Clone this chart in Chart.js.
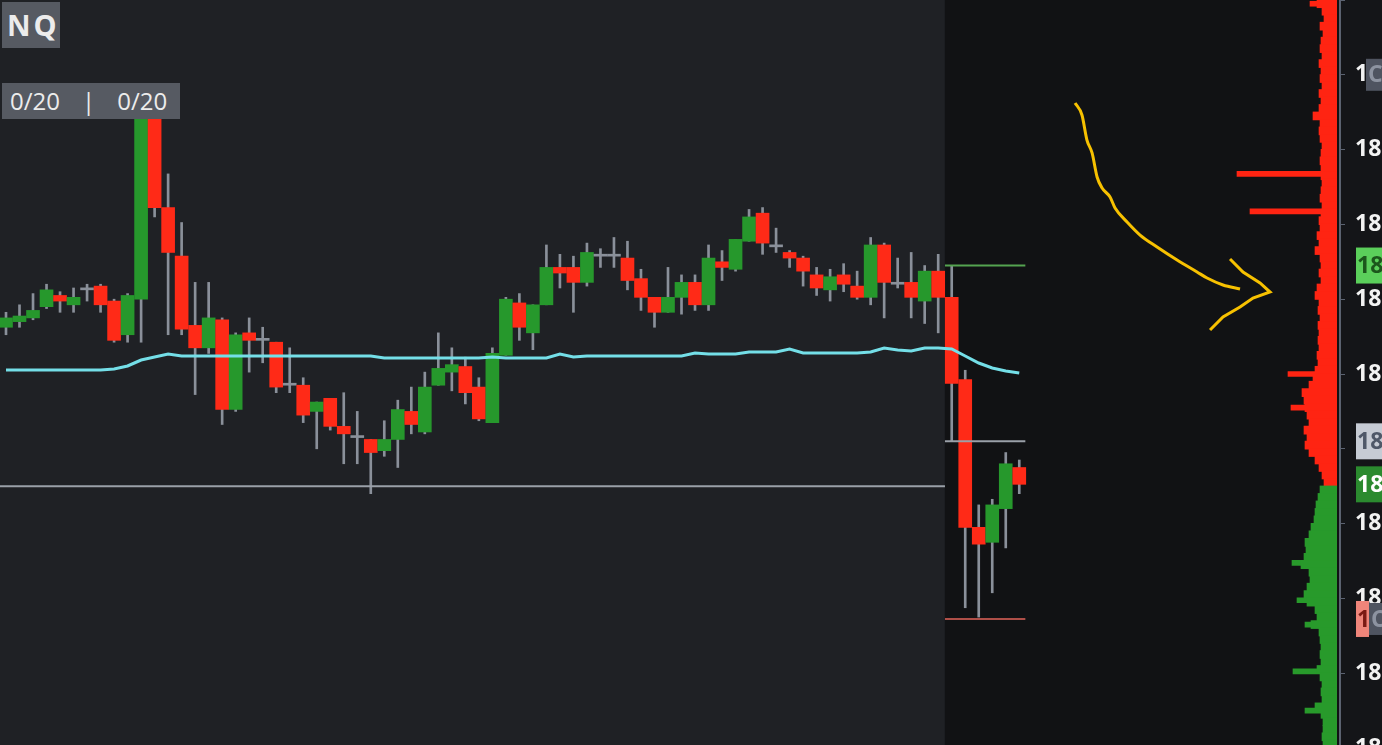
<!DOCTYPE html>
<html>
<head>
<meta charset="utf-8">
<script src="https://cdn.jsdelivr.net/npm/chart.js@4.4.1/dist/chart.umd.min.js"></script>
<style>
  html, body { margin: 0; padding: 0; background: #141518; overflow: hidden; }
  #wrap { position: relative; width: 1420px; height: 748px; }
  #profileBox { position: absolute; left: 1217px; top: 0; width: 120px; height: 748px; }
  .tag { position: absolute; background: #565a62; color: #ececec; font-family: "Open Sans", sans-serif; }
  .tag.sym { left: 2px; top: 2px; width: 58px; height: 46px; font-size: 29px; font-weight: bold; letter-spacing: 3px; line-height: 46px; text-indent: 5px; }
  .tag.pos { left: 2px; top: 83px; width: 178px; height: 36px; font-size: 24px; line-height: 36px; }
  .tag.pos span { display: inline-block; }
</style>
</head>
<body>
<div id="wrap">
  <canvas id="main" width="1420" height="748"></canvas>
  <div id="profileBox"><canvas id="profile" width="120" height="748"></canvas></div>
  <div class="tag sym">NQ</div>
  <div class="tag pos"><span style="margin-left:8px">0/20</span><span style="margin-left:22px">|</span><span style="margin-left:22px">0/20</span></div>
</div>
<script>
// candles (NQ, one per slot)
const openP = [18256.25,18257.00,18257.50,18259.00,18260.50,18259.25,18261.25,18261.75,18259.75,18255.25,
  18260.00,18285.00,18272.25,18265.75,18256.50,18253.50,18257.25,18245.25,18255.50,18254.50,
  18254.25,18248.50,18248.50,18245.00,18246.75,18243.00,18241.50,18241.25,18239.75,18241.25,
  18245.00,18242.25,18248.50,18250.25,18251.00,18248.25,18243.50,18252.50,18259.50,18255.50,
  18259.25,18264.25,18264.25,18262.25,18265.75,18265.75,18265.50,18262.75,18260.25,18258.25,
  18260.25,18262.25,18259.25,18265.00,18264.00,18267.75,18271.50,18267.00,18266.25,18265.50,
  18263.25,18261.25,18263.25,18261.75,18260.25,18267.25,18262.00,18262.25,18259.75,18263.75,
  18260.25,18249.25,18229.50,18227.50,18232.00,18237.50];
const highP = [18258.25,18259.25,18260.75,18262.00,18261.00,18261.50,18262.00,18262.00,18260.00,18260.75,
  18285.25,18285.25,18276.75,18270.25,18262.25,18262.25,18257.50,18255.50,18257.50,18256.25,
  18254.25,18253.50,18249.50,18246.25,18246.75,18247.50,18245.00,18241.25,18243.75,18246.50,
  18248.25,18250.25,18255.50,18253.50,18252.25,18249.50,18253.50,18260.25,18260.75,18259.25,
  18267.25,18266.00,18265.75,18267.50,18266.75,18268.25,18267.75,18264.00,18260.25,18264.25,
  18263.25,18263.25,18267.25,18266.50,18268.00,18272.00,18272.25,18269.50,18266.50,18265.75,
  18264.25,18264.00,18264.75,18263.75,18268.25,18267.50,18265.50,18266.25,18264.50,18266.00,
  18264.50,18250.50,18232.50,18233.25,18239.50,18238.50];
const lowP = [18255.25,18256.25,18257.25,18258.75,18258.25,18258.25,18259.75,18258.25,18254.25,18254.25,
  18254.25,18271.00,18255.25,18255.25,18247.25,18252.75,18243.25,18245.00,18250.25,18251.50,
  18247.50,18247.50,18243.50,18240.00,18242.50,18238.00,18238.00,18234.00,18239.00,18237.50,
  18242.00,18242.00,18248.50,18247.75,18246.00,18243.75,18243.50,18252.50,18254.50,18253.25,
  18259.25,18261.50,18258.25,18261.75,18264.25,18264.25,18261.25,18258.50,18256.25,18258.25,
  18258.00,18258.50,18258.50,18262.50,18263.75,18267.75,18266.00,18266.25,18264.25,18261.75,
  18260.50,18259.75,18261.00,18260.00,18259.25,18257.50,18261.50,18257.50,18256.75,18255.50,
  18241.00,18218.75,18217.50,18220.75,18226.75,18234.00];
const closeP = [18257.50,18257.75,18258.50,18261.25,18259.75,18260.25,18261.25,18259.25,18254.50,18260.50,
  18285.00,18272.25,18266.25,18256.00,18253.50,18257.50,18245.25,18255.25,18254.50,18254.50,
  18248.25,18248.50,18244.50,18246.25,18243.00,18242.00,18241.50,18239.50,18241.25,18245.25,
  18243.25,18248.25,18250.75,18251.25,18247.50,18244.00,18252.75,18260.00,18256.25,18259.25,
  18264.25,18263.50,18262.25,18266.25,18265.75,18265.75,18262.50,18260.25,18258.25,18260.25,
  18262.25,18259.25,18265.50,18264.25,18268.00,18271.00,18267.50,18267.00,18265.50,18263.75,
  18261.50,18263.00,18262.00,18260.25,18267.25,18262.25,18262.00,18260.25,18263.75,18260.25,
  18248.75,18229.50,18227.25,18232.50,18238.00,18235.25];

// vwap per candle
const vwap = [18250.53,18250.53,18250.53,18250.53,18250.53,18250.53,18250.53,18250.53,18250.67,18251.07,
  18251.87,18252.27,18252.67,18252.41,18252.41,18252.41,18252.41,18252.41,18252.41,18252.41,
  18252.41,18252.41,18252.41,18252.41,18252.41,18252.41,18252.41,18252.41,18252.14,18252.14,
  18252.14,18252.14,18252.14,18252.14,18252.14,18252.14,18252.27,18252.14,18252.14,18252.14,
  18252.14,18252.67,18252.27,18252.41,18252.41,18252.41,18252.41,18252.41,18252.41,18252.41,
  18252.41,18252.81,18252.67,18252.67,18252.67,18252.94,18252.94,18252.94,18253.34,18252.81,
  18252.81,18252.81,18252.81,18252.81,18252.94,18253.48,18253.21,18253.07,18253.48,18253.48,
  18253.34,18252.41,18251.47,18250.80,18250.40,18250.13];

// session split and levels
const sessionSplit = 69.5;
const levelEnd = 75.45;
const prevLow = 18235.00;
const levelPrices = [18264.50, 18241.00, 18217.25];
const levelColors = ['#55a350', '#9aa0a8', '#ae4f48'];

// axis ticks
const yMin = 18200, yMax = 18300, yStep = 10;

// price tags on the axis
const tagPrices = [18264.50, 18241.00, 18235.25];
const tagBg = ['#5bcf5b', '#c6cbd4', '#2b8a2f'];
const tagFg = ['#1c561c', '#4f5868', '#ffffff'];
const orderPrices = [18290.00, 18217.25];
const orderQty = ['', '1'];

// volume profile, 1 pt rows from the top
const profileTop = 18299.5;
const profileVol = [20,15,13,17,14,16,17,15,18,16, 17,15,18,16,18,24,17,18,17,15,
  16,17,16,16,15,16,17,15,16,18, 17,20,18,22,17,16,18,16,20,22,
  18,19,17,19,18,19,18,20,19,22, 24,28,35,33,32,30,28,33,30,32,
  28,22,18,15,13,17,19,21,22,23, 26,28,32,31,33,36,28,27,30,33,
  30,22,20,26,18,17,16,17,16,20, 17,15,16,15,22,16,14,14,15,14];
const spikePrices = [18299.50, 18276.75, 18271.75, 18250.00, 18245.50, 18224.75, 18219.75, 18216.50, 18210.25, 18205.00];
const spikeVol = [27, 100, 87, 49, 46, 45, 40, 32, 44, 32];
const profileSplit = 18235.00;

// hand drawn arrow (slot, price)
const arrowCurve = [[79.13,18286.23],[79.64,18284.63],[80.01,18281.28],[80.39,18279.55],[80.76,18276.34],
  [81.13,18274.87],[81.72,18273.66],[82.09,18272.19],[82.98,18270.32],[83.94,18268.58],[85.20,18266.98],
  [86.68,18265.24],[88.16,18263.64],[88.90,18262.83],[90.08,18261.90],[91.34,18261.36]];
const arrowHead = [[90.60,18265.37],[91.56,18263.64],[92.82,18262.17],[93.56,18260.96],[92.30,18260.16],
  [91.34,18258.96],[90.08,18257.62],[89.12,18255.88]];

const GREEN = '#26982c', RED = '#ff2a17', GRAY = '#8a909a';

function candleColor(i) {
  if (closeP[i] > openP[i]) return GREEN;
  if (closeP[i] < openP[i]) return RED;
  return GRAY;
}

const bgPlugin = {
  id: 'bg',
  beforeDraw(chart) {
    const ctx = chart.ctx, a = chart.chartArea;
    const split = chart.scales.x.getPixelForValue(sessionSplit);
    ctx.save();
    ctx.fillStyle = '#141518';
    ctx.fillRect(0, 0, chart.width, chart.height);
    ctx.fillStyle = '#1f2125';
    ctx.fillRect(a.left, a.top, split - a.left, a.bottom - a.top);
    ctx.fillStyle = '#111214';
    ctx.fillRect(split, a.top, a.right - split, a.bottom - a.top);
    ctx.restore();
  }
};

const tagPlugin = {
  id: 'tags',
  afterDraw(chart) {
    const ctx = chart.ctx, y = chart.scales.y;
    const x0 = chart.chartArea.right + 16;
    ctx.save();
    ctx.font = 'bold 23px "Open Sans"';
    ctx.textBaseline = 'middle';
    tagPrices.forEach((p, i) => {
      const py = y.getPixelForValue(p);
      ctx.fillStyle = tagBg[i];
      ctx.fillRect(x0, py - 18, 90, 36);
      ctx.fillStyle = tagFg[i];
      ctx.fillText(p.toFixed(2), x0 + 1, py + 1);
    });
    orderPrices.forEach((p, i) => {
      const py = y.getPixelForValue(p);
      let cx = x0 + 10;
      if (orderQty[i]) {
        ctx.fillStyle = '#ef857a';
        ctx.fillRect(x0, py - 18, 13, 36);
        ctx.fillStyle = '#7a1a14';
        ctx.fillText(orderQty[i], x0 + 1, py + 1);
        cx = x0 + 13;
      }
      ctx.fillStyle = '#4f5460';
      ctx.fillRect(cx, py - 16, 60, 32);
      ctx.fillStyle = '#8d93a0';
      ctx.fillText('C', cx + 2, py + 1);
    });
    ctx.restore();
  }
};

function seg(x1, x2, p) {
  return [{ x: x1, y: p }, { x: x2, y: p }];
}

const lineBase = { type: 'line', pointRadius: 0, borderWidth: 2, tension: 0, fill: false };

const datasets = [
  {
    type: 'bar', order: 6, grouped: false, barThickness: 2,
    data: lowP.map((l, i) => ({ x: i, y: [l, highP[i]] })),
    backgroundColor: GRAY
  },
  {
    type: 'bar', order: 5, grouped: false, barThickness: 13, minBarLength: 2,
    data: openP.map((o, i) => ({ x: i, y: [o, closeP[i]] })),
    backgroundColor: openP.map((o, i) => candleColor(i))
  },
  Object.assign({}, lineBase, {
    order: 4, borderColor: '#9aa0a8',
    data: seg(-0.45, sessionSplit, prevLow)
  }),
  ...levelPrices.map((p, i) => Object.assign({}, lineBase, {
    order: 4, borderColor: levelColors[i],
    data: seg(sessionSplit, levelEnd, p)
  })),
  Object.assign({}, lineBase, {
    order: 1, borderColor: '#74dfe8', borderWidth: 3,
    data: vwap.map((v, i) => ({ x: i, y: v }))
  }),
  Object.assign({}, lineBase, {
    order: 0, borderColor: '#f7c100', borderWidth: 3, cubicInterpolationMode: 'monotone',
    data: arrowCurve.map(p => ({ x: p[0], y: p[1] }))
  }),
  Object.assign({}, lineBase, {
    order: 0, borderColor: '#f7c100', borderWidth: 3,
    data: arrowHead.map(p => ({ x: p[0], y: p[1] }))
  })
];

new Chart(document.getElementById('main'), {
  type: 'bar',
  data: { datasets: datasets },
  options: {
    responsive: false,
    animation: false,
    layout: { padding: 0, autoPadding: false },
    plugins: { legend: { display: false }, tooltip: { enabled: false } },
    scales: {
      x: { type: 'linear', min: -0.444, max: 98.74, offset: false, display: false },
      y: {
        type: 'linear', position: 'right', min: yMin, max: yMax, beginAtZero: false,
        // fixed axis width, no extra room for the end labels
        afterFit: s => { s.width = 80; s.paddingTop = 0; s.paddingBottom = 0; },
        ticks: {
          stepSize: yStep, padding: 10, color: '#f2f2f2',
          font: { family: 'Open Sans', size: 23, weight: 'bold' },
          callback: v => (v >= yMax ? '' : v.toFixed(2))
        },
        grid: { drawOnChartArea: false, tickLength: 5, color: '#5b6270' },
        border: { display: true, color: '#5b6270', width: 2 }
      }
    }
  },
  plugins: [bgPlugin, tagPlugin]
});

// volume profile
const profileLevels = profileVol.map((v, k) => profileTop - k);
const sideColor = p => (p >= profileSplit ? '#ff2412' : '#289a2b');

new Chart(document.getElementById('profile'), {
  type: 'bar',
  data: {
    datasets: [
      {
        grouped: false, barThickness: 8,
        data: profileLevels.map((p, k) => ({ x: profileVol[k], y: p })),
        backgroundColor: profileLevels.map(sideColor)
      },
      {
        grouped: false, barThickness: 5,
        data: spikePrices.map((p, k) => ({ x: spikeVol[k], y: p })),
        backgroundColor: spikePrices.map(sideColor)
      }
    ]
  },
  options: {
    indexAxis: 'y',
    responsive: false,
    animation: false,
    layout: { padding: 0, autoPadding: false },
    plugins: { legend: { display: false }, tooltip: { enabled: false } },
    scales: {
      x: { type: 'linear', reverse: true, min: 0, max: 120, offset: false, display: false },
      y: { type: 'linear', min: yMin, max: yMax, offset: false, display: false }
    }
  }
});
</script>
</body>
</html>
